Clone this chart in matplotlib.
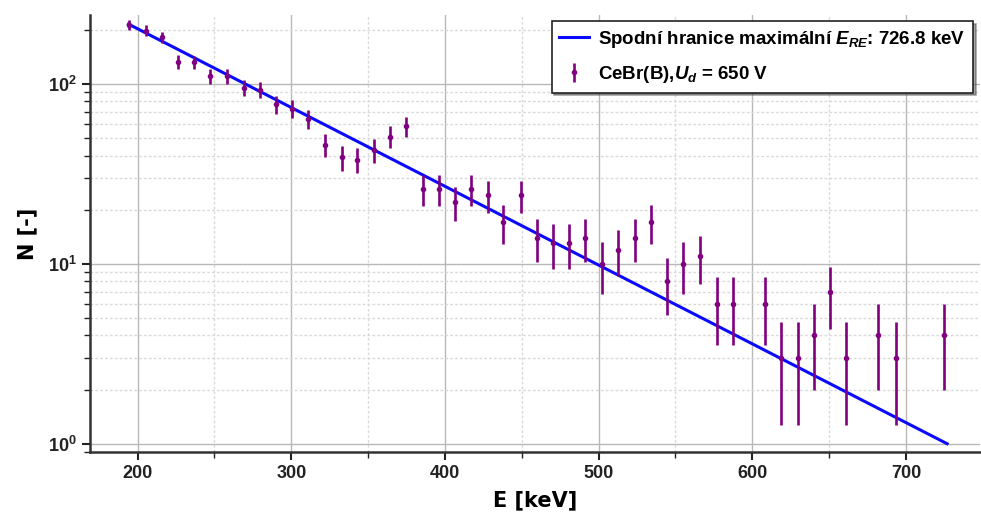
import numpy as np
import matplotlib
matplotlib.use("Agg")
import matplotlib.pyplot as plt

plt.rcParams["font.family"] = ["Liberation Sans", "DejaVu Sans"]
plt.rcParams["mathtext.fontset"] = "custom"
plt.rcParams["mathtext.rm"] = "Liberation Sans:bold"
plt.rcParams["mathtext.it"] = "Liberation Sans:italic:bold"
plt.rcParams["mathtext.bf"] = "Liberation Sans:bold"
plt.rcParams["mathtext.bfit"] = "Liberation Sans:italic:bold"

# Measured spectrum: bin energies [keV] and counts
energy = [194.1, 205.5, 215.9, 226.4, 237.0, 247.2, 258.3, 269.0, 279.6, 290.0,
          300.3, 310.7, 322.1, 332.7, 343.0, 353.6, 364.0, 374.4, 385.9, 396.3,
          406.6, 417.0, 427.7, 438.1, 449.3, 459.9, 470.3, 480.8, 491.4, 502.5,
          512.9, 523.5, 534.2, 544.6, 555.0, 566.0, 576.8, 587.3, 608.0, 618.6,
          629.7, 640.3, 650.8, 661.0, 681.7, 693.2, 724.5]
counts = [213, 198, 182, 133, 132, 110, 111, 95, 93, 77,
          73, 64, 46, 39, 38, 43, 51, 58, 26, 26,
          22, 26, 24, 17, 24, 14, 13, 13, 14, 10,
          12, 14, 17, 8, 10, 11, 6, 6, 6, 3,
          3, 4, 7, 3, 4, 3, 4]

# Exponential fit (straight on log axis) down to N = 1
fit_energy = [194.1, 726.8]
fit_counts = [215.0, 1.0]
e_max = 726.8

counts_arr = np.array(counts, dtype=float)
counts_err = np.sqrt(counts_arr)  # Poisson uncertainties

fig = plt.figure(figsize=(9.81, 5.13), dpi=100)
ax = fig.add_axes([0.0917, 0.119, 0.907, 0.852])

ax.plot(fit_energy, fit_counts, color="#0a0aff", lw=2.2,
        label=r"Spodní hranice maximální $E_{RE}$: " + f"{e_max:.1f} keV", zorder=3)
ax.errorbar(energy, counts_arr, yerr=counts_err, fmt="o", color="#800080",
            ms=3.0, elinewidth=1.9, capsize=0, zorder=4,
            label=r"CeBr(B),$\boldsymbol{U_d}$ = 650 V")

ax.set_yscale("log")
ax.set_xlim(169, 748)
ax.set_ylim(0.90, 242)

ax.set_xticks([200, 300, 400, 500, 600, 700])
ax.set_xticks([250, 350, 450, 550, 650], minor=True)

ax.grid(which="major", color="#b8b8b8", lw=1.0, ls="-")
ax.grid(which="minor", color="#dadada", lw=1.0, ls=(0, (2, 1.5)))
ax.set_axisbelow(True)

for s in ["top", "right"]:
    ax.spines[s].set_visible(False)
for s in ["left", "bottom"]:
    ax.spines[s].set_linewidth(1.8)
    ax.spines[s].set_color("#333333")

ax.tick_params(which="major", direction="out", length=6, width=1.5,
               labelsize=13, colors="#222222")
ax.tick_params(which="minor", direction="out", length=4, width=1.0, colors="#222222")
for lab in ax.get_xticklabels() + ax.get_yticklabels():
    lab.set_fontweight("bold")

ax.set_xlabel("E [keV]", fontsize=15, fontweight="bold", family="DejaVu Sans", labelpad=6)
ax.set_ylabel("N [-]", fontsize=15, fontweight="bold", family="DejaVu Sans", labelpad=8)

leg = ax.legend(loc="upper right", prop={"weight": "bold", "size": 13.5},
                frameon=True, fancybox=False, shadow=True, framealpha=1,
                borderaxespad=0.35, borderpad=0.4, labelspacing=0.75,
                handlelength=1.6, handletextpad=0.5)
leg.get_frame().set_edgecolor("#222222")
leg.get_frame().set_linewidth(1.2)

fig.savefig("out.png", dpi=100)
